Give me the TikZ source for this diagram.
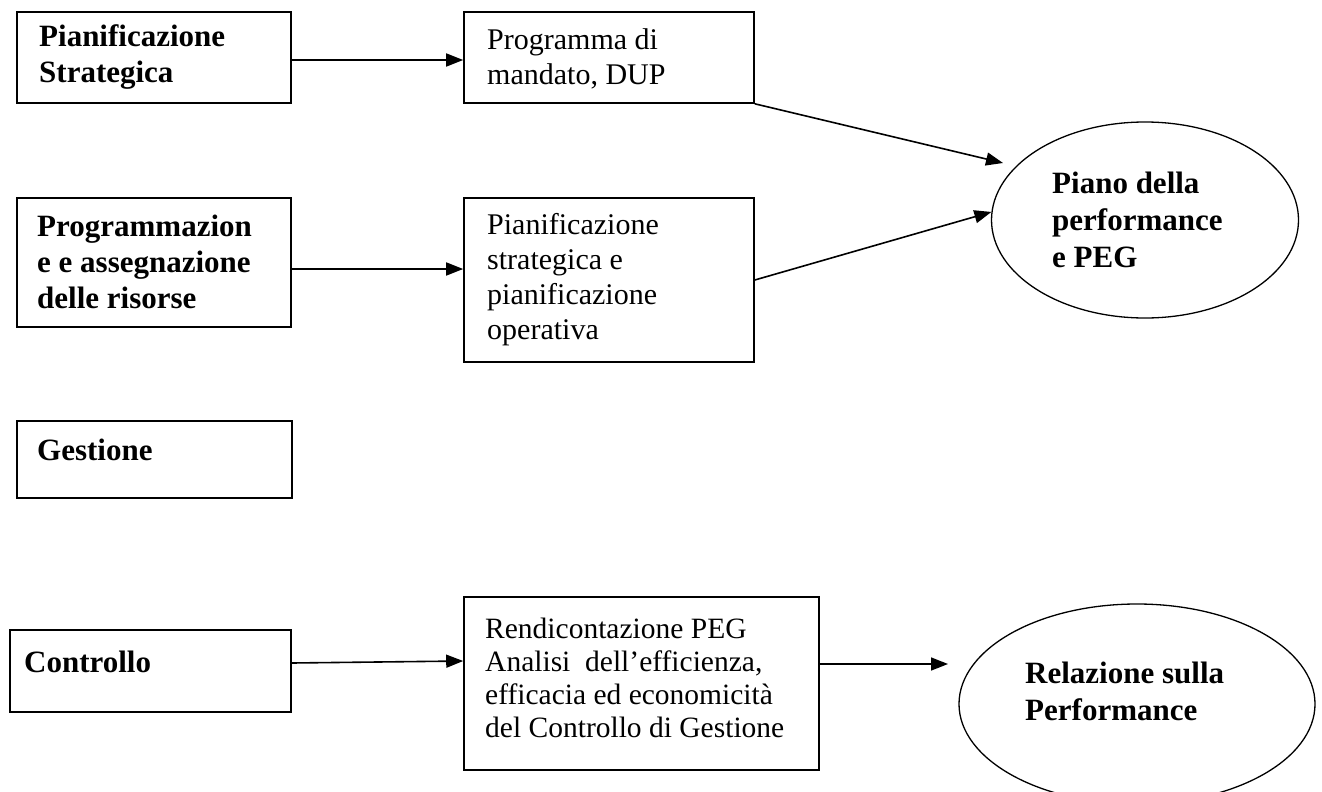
\documentclass[tikz,border=0pt]{standalone}
\usepackage{fontspec}
\setmainfont{Liberation Serif}
\usetikzlibrary{arrows.meta,shapes.geometric}
\tikzset{
  box/.style={draw,line width=1.6pt,rectangle,inner sep=0pt},
  oval/.style={draw,line width=1.3pt,ellipse,inner sep=0pt},
  btxt/.style={anchor=west,align=left,inner sep=0pt,font=\fontsize{31}{36}\selectfont\bfseries},
  rtxt/.style={anchor=west,align=left,inner sep=0pt,font=\fontsize{30}{35}\selectfont},
  r2txt/.style={anchor=west,align=left,inner sep=0pt,font=\fontsize{29.5}{33}\selectfont},
  etxt/.style={anchor=west,align=left,inner sep=0pt,font=\fontsize{31}{37}\selectfont\bfseries},
  arr/.style={line width=1.6pt,-{Triangle[length=17pt,width=13pt]}}
}
\begin{document}
\begin{tikzpicture}[x=1pt,y=-1pt]
\fill[white] (0,0) rectangle (1322,792);
\useasboundingbox (0,0) rectangle (1322,792);
% boxes
\node[box,minimum width=274pt,minimum height=91pt] (b1) at (154,57.5) {};
\node[box,minimum width=290pt,minimum height=91pt] (b2) at (609,57.5) {};
\node[box,minimum width=274pt,minimum height=129pt] (b3) at (154,262.5) {};
\node[box,minimum width=290pt,minimum height=164pt] (b4) at (609,280) {};
\node[box,minimum width=275pt,minimum height=77pt] (b5) at (154.5,459.5) {};
\node[box,minimum width=281pt,minimum height=82pt] (b6) at (150.5,671) {};
\node[box,minimum width=355pt,minimum height=173pt] (b7) at (641.5,683.5) {};
\node[oval,minimum width=307pt,minimum height=196pt] (e1) at (1145,220) {};
\node[oval,minimum width=356pt,minimum height=200pt] (e2) at (1137,704) {};
% texts
\node[btxt] (t1) at (39,57.5) {Pianificazione\\Strategica};
\node[rtxt] (t2) at (487,59) {Programma di\\mandato, DUP};
\node[btxt] (t3) at (37,262) {Programmazion\\e e assegnazione\\delle risorse};
\node[rtxt] (t4) at (487,279.5) {Pianificazione\\strategica e\\pianificazione\\operativa};
\node[btxt] (t5) at (37,450) {Gestione};
\node[btxt] (t6) at (24,662) {Controllo};
\node[r2txt] (t7) at (485,677.5) {Rendicontazione PEG\\Analisi~ dell’efficienza,\\efficacia ed economicità\\del Controllo di Gestione};
\node[etxt] (t8) at (1052,220) {Piano della\\performance\\e PEG};
\node[etxt] (t9) at (1025,691) {Relazione sulla\\Performance};
% arrows
\draw[arr] (b1.east |- 0,60) -- (b2.west |- 0,60);
\draw[arr] (b2.south east) -- (1003,163);
\draw[arr] (b3.east |- 0,269) -- (b4.west |- 0,269);
\draw[arr] (b4.east |- 0,280) -- (e1.177);
\draw[arr] (b6.east |- 0,663) -- (b7.west |- 0,661);
\draw[arr] (b7.east |- 0,664) -- (948,664);
\end{tikzpicture}
\end{document}
